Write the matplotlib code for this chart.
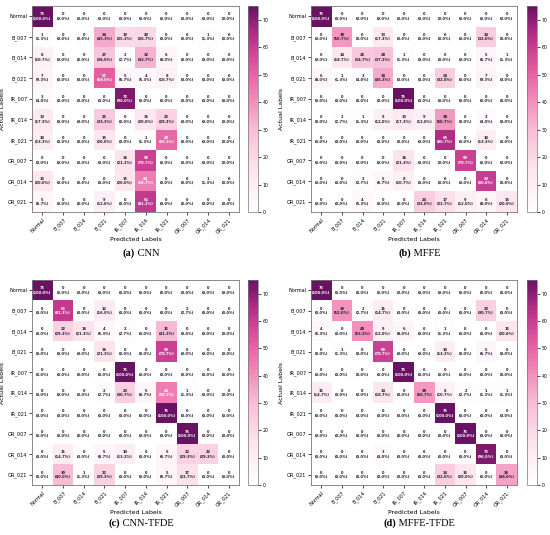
import numpy as np
import matplotlib
matplotlib.use("Agg")
import matplotlib.pyplot as plt
from matplotlib.colors import LinearSegmentedColormap

# class names on both axes
labels = ["Normal", "B_007", "B_014", "B_021", "IR_007",
          "IR_014", "IR_021", "OR_007", "OR_014", "OR_021"]

# confusion matrices (rows = actual, cols = predicted), 75 samples per class
cm_cnn = [
    [75, 0, 0, 0, 0, 0, 0, 0, 0, 0],
    [1, 0, 0, 34, 19, 20, 0, 0, 1, 0],
    [8, 0, 0, 27, 2, 32, 6, 0, 0, 0],
    [7, 0, 0, 51, 5, 4, 8, 0, 0, 0],
    [3, 0, 0, 0, 72, 0, 0, 0, 0, 0],
    [13, 0, 0, 25, 0, 15, 22, 0, 0, 0],
    [10, 0, 0, 15, 0, 1, 49, 0, 0, 0],
    [0, 0, 0, 0, 16, 59, 0, 0, 0, 0],
    [15, 0, 0, 0, 15, 44, 0, 0, 1, 0],
    [5, 0, 0, 9, 0, 61, 0, 0, 0, 0],
]

cm_mffe = [
    [75, 0, 0, 0, 0, 0, 0, 0, 0, 0],
    [0, 38, 0, 13, 0, 0, 0, 0, 24, 0],
    [0, 14, 26, 28, 1, 0, 0, 0, 5, 1],
    [6, 1, 3, 34, 0, 0, 24, 0, 7, 0],
    [0, 0, 0, 0, 75, 0, 0, 0, 0, 0],
    [0, 2, 1, 9, 13, 9, 38, 0, 3, 0],
    [0, 0, 0, 0, 0, 0, 65, 0, 10, 0],
    [0, 0, 0, 0, 16, 0, 0, 59, 0, 0],
    [0, 0, 2, 5, 8, 0, 0, 0, 60, 0],
    [0, 0, 4, 0, 0, 24, 17, 9, 6, 15],
]

cm_cnn_tfde = [
    [75, 0, 0, 0, 0, 0, 0, 0, 0, 0],
    [0, 61, 0, 12, 0, 0, 0, 2, 0, 0],
    [0, 22, 16, 4, 2, 0, 31, 0, 0, 0],
    [0, 0, 0, 16, 0, 0, 59, 0, 0, 0],
    [0, 0, 0, 0, 75, 0, 0, 0, 0, 0],
    [0, 0, 0, 2, 23, 5, 44, 1, 0, 0],
    [0, 0, 0, 0, 0, 0, 75, 0, 0, 0],
    [0, 0, 0, 0, 0, 0, 0, 75, 0, 0],
    [0, 11, 0, 5, 10, 0, 5, 22, 22, 0],
    [0, 30, 1, 22, 0, 0, 5, 17, 0, 0],
]

cm_mffe_tfde = [
    [75, 0, 0, 0, 0, 0, 0, 0, 0, 0],
    [0, 39, 2, 11, 0, 0, 0, 0, 23, 0],
    [4, 0, 40, 9, 6, 0, 1, 0, 0, 15],
    [0, 1, 0, 59, 0, 0, 10, 0, 5, 0],
    [0, 0, 0, 0, 75, 0, 0, 0, 0, 0],
    [11, 0, 0, 14, 0, 38, 8, 2, 1, 1],
    [0, 0, 0, 0, 0, 0, 75, 0, 0, 0],
    [0, 0, 0, 0, 0, 0, 0, 75, 0, 0],
    [0, 0, 0, 3, 0, 0, 0, 0, 72, 0],
    [0, 0, 0, 0, 0, 0, 24, 15, 0, 36],
]

panel_tags = ["(a)", "(b)", "(c)", "(d)"]
panel_names = ["CNN", "MFFE", "CNN-TFDE", "MFFE-TFDE"]
matrices = [cm_cnn, cm_mffe, cm_cnn_tfde, cm_mffe_tfde]

W, H = 550, 535
fig = plt.figure(figsize=(W / 100, H / 100), dpi=100)

# white -> pink -> dark purple, a bit lighter than RdPu
CMAP = LinearSegmentedColormap.from_list("pinkpurple", [
    (0.0, "#ffffff"), (0.2, "#fde6ee"), (0.4, "#f8bdd6"),
    (0.55, "#f18bb9"), (0.7, "#e25a9f"), (0.85, "#b8318a"),
    (1.0, "#681263")])
VMAX = 75


def px_box(x0, y0, x1, y1):
    # pixel box (top-left origin) -> figure fraction rect
    return [x0 / W, 1 - y1 / H, (x1 - x0) / W, (y1 - y0) / H]


def draw_cm(ax, cax, cm):
    cm = np.array(cm)
    im = ax.imshow(cm, cmap=CMAP, vmin=0, vmax=VMAX, aspect="auto",
                   interpolation="nearest")
    row_sum = cm.sum(axis=1, keepdims=True)
    pct = cm / row_sum * 100
    for i in range(cm.shape[0]):
        for j in range(cm.shape[1]):
            col = "white" if cm[i, j] > 40 else "#1b1b2f"
            ax.text(j, i, f"{cm[i, j]}\n({pct[i, j]:.1f}%)", ha="center",
                    va="center", fontsize=2.6, fontweight="bold", color=col,
                    linespacing=1.1)
    ax.set_xticks(range(len(labels)))
    ax.set_yticks(range(len(labels)))
    ax.set_xticklabels(labels, rotation=45, ha="right", rotation_mode="anchor",
                       fontsize=3.6)
    ax.set_yticklabels(labels, fontsize=3.6)
    ax.tick_params(length=2, width=0.5, pad=1.5)
    for s in ax.spines.values():
        s.set_color("#777777")
        s.set_linewidth(0.6)
    ax.set_xlabel("Predicted Labels", fontsize=4.5, labelpad=2)
    ax.set_ylabel("Actual Labels", fontsize=4.5, labelpad=2)

    cb = fig.colorbar(im, cax=cax, ticks=range(0, 71, 10))
    cb.ax.tick_params(labelsize=3.3, length=2, width=0.5, pad=1.5)
    cb.outline.set_linewidth(0.5)
    cb.outline.set_edgecolor("#777777")


# pixel layout of the four panels (heatmap box, colorbar box, caption y)
col_x = [(32, 239, 248, 258), (311, 517, 527, 537)]
row_y = [(6, 212, 253), (280, 485, 523)]

k = 0
for r in range(2):
    for c in range(2):
        hx0, hx1, cx0, cx1 = col_x[c]
        y0, y1, cap_y = row_y[r]
        ax = fig.add_axes(px_box(hx0, y0, hx1, y1))
        cax = fig.add_axes(px_box(cx0, y0, cx1, y1))
        draw_cm(ax, cax, matrices[k])

        # caption: bold tag + regular name, centred under the panel
        xc = (hx0 + hx1) / 2 / W + 0.01
        yc = 1 - cap_y / H
        t1 = fig.text(xc, yc, panel_tags[k], fontsize=7.5, fontweight="bold",
                      family="Liberation Serif", ha="left", va="center")
        t2 = fig.text(xc, yc, " " + panel_names[k], fontsize=7.5,
                      family="Liberation Serif", ha="left", va="center")
        rend = fig.canvas.get_renderer()
        w1 = t1.get_window_extent(rend).width / W
        w2 = t2.get_window_extent(rend).width / W
        start = xc - (w1 + w2) / 2
        t1.set_x(start)
        t2.set_x(start + w1)
        k += 1

fig.savefig("out.png", dpi=100, facecolor="white")
